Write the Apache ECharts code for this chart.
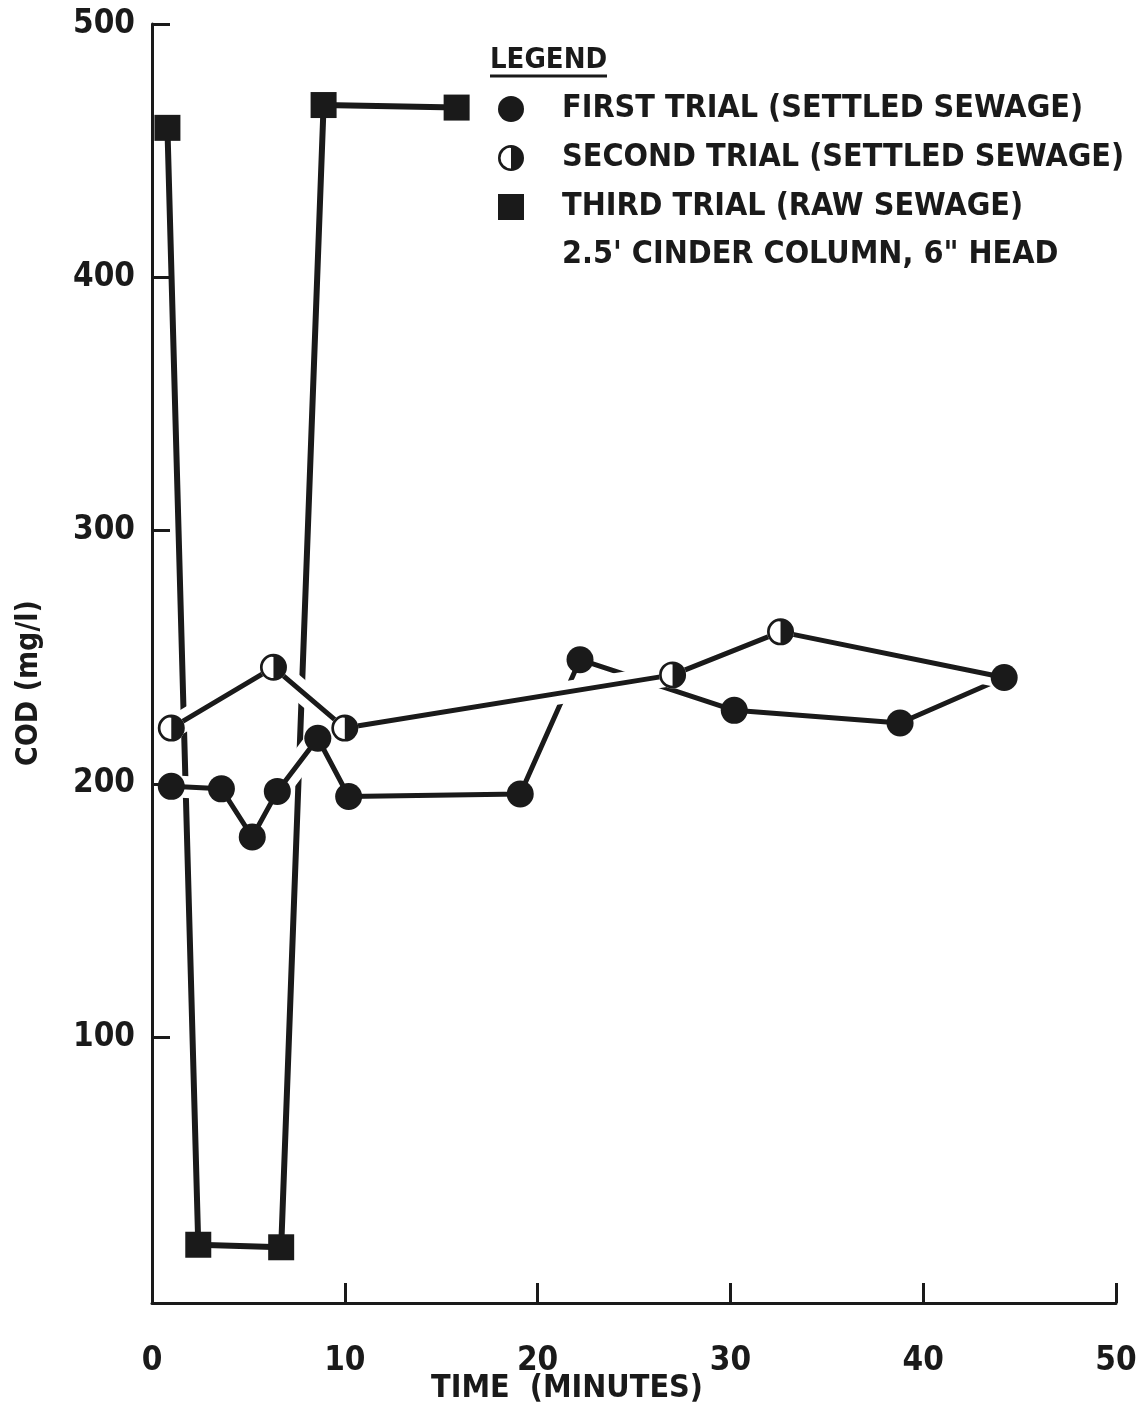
<!DOCTYPE html>
<html>
<head>
<meta charset="utf-8">
<script src="https://cdn.jsdelivr.net/npm/echarts@6/dist/echarts.min.js"></script>
<style>
  html, body { margin: 0; padding: 0; background: #fff; }
  #chart { width: 1147px; height: 1407px; }
</style>
</head>
<body>
<div id="chart"></div>
<script>
const INK = "#1a1a1a";
const FONT = "'DejaVu Sans Condensed', 'DejaVu Sans'";

// axis ticks
const yTicks = [100, 200, 300, 400, 500];

// first trial (settled sewage) - filled circles
const firstTime = [1.0, 3.6, 5.2, 6.5, 8.6, 10.2, 19.1, 22.2, 30.2, 38.8, 44.2];
const firstCod = [199, 198, 179, 197, 218, 195, 196, 249, 229, 224, 242];

// second trial (settled sewage) - half circles, last point ends on the first trial's last point
const secondTime = [1.0, 6.3, 10.0, 27.0, 32.6, 44.2];
const secondCod = [222, 246, 222, 243, 260, 242];

// third trial (raw sewage) - squares
const thirdTime = [0.8, 2.4, 6.7, 8.9, 15.8];
const thirdCod = [459, 18, 17, 468, 467];

const FIRST = "FIRST TRIAL (SETTLED SEWAGE)";
const SECOND = "SECOND TRIAL (SETTLED SEWAGE)";
const THIRD = "THIRD TRIAL (RAW SEWAGE)";

// ring + right half disc
const HALF = "path://M0,-10A10,10 0 0,1 0,10Z M0,-10A10,10 0 0,0 0,10L0,8A8,8 0 0,1 0,-8Z";

const pairs = (xs, ys) => xs.map((x, i) => [x, ys[i]]);

// white halos under a trace break the trace drawn beneath it, as in the drafted figure
const lineSeries = (name, data, color, width, z) => ({
  name,
  type: "line",
  data,
  z,
  symbol: "none",
  silent: true,
  lineStyle: { color, width, join: "round" },
});

const markSeries = (name, data, symbol, size, color, z) => ({
  name,
  type: "scatter",
  data,
  z,
  symbol,
  symbolSize: size,
  silent: true,
  itemStyle: { color, opacity: 1 },
});

const chart = echarts.init(document.getElementById("chart"), null, { renderer: "canvas" });

const textBase = { color: INK, fontFamily: FONT, fontWeight: "bold" };

const option = {
  animation: false,
  backgroundColor: "#fff",
  grid: { left: 152, right: 31, top: 24, bottom: 104, outerBoundsMode: "none", containLabel: false },
  xAxis: {
    type: "value",
    min: 0,
    max: 50,
    interval: 10,
    axisLine: { onZero: false, lineStyle: { color: INK, width: 3 } },
    axisTick: { inside: true, length: 20, lineStyle: { color: INK, width: 3 } },
    axisLabel: { ...textBase, fontSize: 33, margin: 42 },
    splitLine: { show: false },
  },
  yAxis: {
    type: "value",
    min: -5,
    max: 500,
    axisLine: { onZero: false, lineStyle: { color: INK, width: 3 } },
    axisTick: { inside: true, length: 18, customValues: yTicks, lineStyle: { color: INK, width: 3 } },
    axisLabel: { ...textBase, fontSize: 33, margin: 17, customValues: yTicks },
    splitLine: { show: false },
  },
  legend: {
    orient: "vertical",
    left: 493,
    top: 88,
    itemWidth: 26,
    itemHeight: 26,
    itemGap: 17,
    selectedMode: false,
    data: [
      { name: FIRST, icon: "circle" },
      { name: SECOND, icon: HALF },
      { name: THIRD, icon: "rect" },
    ],
    textStyle: { ...textBase, fontSize: 32, lineHeight: 26, padding: [0, 0, 0, 33] },
  },
  graphic: [
    { type: "text", x: 490, y: 60, style: { text: "LEGEND", fill: INK, fontFamily: FONT, fontWeight: "bold", fontSize: 29, verticalAlign: "middle" } },
    { type: "line", shape: { x1: 490, y1: 76, x2: 607, y2: 76 }, style: { stroke: INK, lineWidth: 3 } },
    { type: "text", x: 562, y: 255, style: { text: "2.5' CINDER COLUMN, 6\" HEAD", fill: INK, fontFamily: FONT, fontWeight: "bold", fontSize: 32, verticalAlign: "middle" } },
    { type: "text", x: 567, y: 1389, style: { text: "TIME  (MINUTES)", fill: INK, fontFamily: FONT, fontWeight: "bold", fontSize: 32, align: "center", verticalAlign: "middle" } },
    { type: "text", x: 29, y: 683, rotation: Math.PI / 2, style: { text: "COD (mg/l)", fill: INK, fontFamily: FONT, fontWeight: "bold", fontSize: 30, align: "center", verticalAlign: "middle" } },
  ],
  series: [
    lineSeries("third-line", pairs(thirdTime, thirdCod), INK, 6, 2),
    lineSeries("first-halo", pairs(firstTime, firstCod), "#fff", 22, 3),
    lineSeries("first-line", pairs(firstTime, firstCod), INK, 5, 4),
    lineSeries("second-halo", pairs(secondTime, secondCod), "#fff", 22, 5),
    lineSeries("second-line", pairs(secondTime, secondCod), INK, 5, 6),
    markSeries(THIRD, pairs(thirdTime, thirdCod), "rect", 26, INK, 7),
    markSeries("second-base", pairs(secondTime, secondCod).slice(0, -1), "circle", 27, "#fff", 8),
    markSeries(SECOND, pairs(secondTime, secondCod).slice(0, -1), HALF, 27, INK, 9),
    markSeries(FIRST, pairs(firstTime, firstCod), "circle", 27, INK, 10),
  ],
};

chart.setOption(option);
</script>
</body>
</html>
